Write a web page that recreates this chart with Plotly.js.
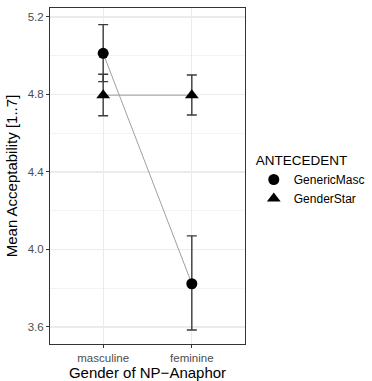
<!DOCTYPE html>
<html>
<head>
<meta charset="utf-8">
<script src="https://cdn.plot.ly/plotly-3.0.1.min.js"></script>
<style>html,body{margin:0;padding:0;background:#fff;}#chart{width:372px;height:381px;}</style>
</head>
<body>
<div id="chart"></div>
<script>
const categories = ["masculine", "feminine"];
const seriesNames = ["GenericMasc", "GenderStar"];
const genericMascMean = [5.012, 3.823];
const genericMascLow = [4.866, 3.584];
const genericMascHigh = [5.160, 4.070];
const genderStarMean = [4.796, 4.796];
const genderStarLow = [4.690, 4.694];
const genderStarHigh = [4.904, 4.900];
const yTicks = [3.6, 4.0, 4.4, 4.8, 5.2];
const yTickLabels = ["3.6", "4.0", "4.4", "4.8", "5.2"];

function lineTrace(mean) {
  return {x: categories, y: mean, type: 'scatter', mode: 'lines',
    line: {color: '#a0a0a0', width: 1}, showlegend: false, hoverinfo: 'skip'};
}
function pointTrace(name, mean, low, high, symbol, size) {
  return {x: categories, y: mean, name: name, type: 'scatter', mode: 'markers',
    marker: {symbol: symbol, size: size, color: '#000'},
    error_y: {type: 'data', symmetric: false,
      array: high.map((h, i) => h - mean[i]),
      arrayminus: mean.map((m, i) => m - low[i]),
      color: '#3a3a3a', thickness: 1.4, width: 5}};
}
const data = [
  lineTrace(genericMascMean),
  lineTrace(genderStarMean),
  pointTrace(seriesNames[0], genericMascMean, genericMascLow, genericMascHigh, 'circle', 11),
  pointTrace(seriesNames[1], genderStarMean, genderStarLow, genderStarHigh, 'triangle-up', 12)
];
const layout = {
  width: 372, height: 381,
  margin: {l: 50, r: 127, t: 8, b: 37, autoexpand: false},
  paper_bgcolor: '#fff', plot_bgcolor: '#fff',
  font: {family: 'Liberation Sans, Arial, sans-serif', color: '#000'},
  xaxis: {type: 'category', range: [-0.6, 1.6],
    showgrid: true, gridcolor: '#ebebeb', gridwidth: 1.2,
    showline: true, mirror: true, linecolor: '#333', linewidth: 1,
    ticks: 'outside', ticklen: 3, tickcolor: '#333',
    tickfont: {size: 11.5, color: '#4d4d4d'}, zeroline: false,
    title: {text: 'Gender of NP\u2212Anaphor', font: {size: 15, color: '#000'}, standoff: 5}},
  yaxis: {range: [3.512, 5.246], tickvals: yTicks, ticktext: yTickLabels,
    showgrid: true, gridcolor: '#ebebeb', gridwidth: 1.2,
    minor: {dtick: 0.2, tick0: 3.6, showgrid: true, gridcolor: '#f3f3f3', gridwidth: 1, ticks: ''},
    showline: true, mirror: true, linecolor: '#333', linewidth: 1,
    ticks: 'outside', ticklen: 3, tickcolor: '#333',
    tickfont: {size: 11.5, color: '#4d4d4d'}, zeroline: false,
    title: {text: 'Mean Acceptability [1..7]', font: {size: 15, color: '#000'}, standoff: 6}},
  showlegend: true,
  legend: {x: 1.045, xanchor: 'left', y: 0.585, yanchor: 'top',
    title: {text: 'ANTECEDENT', font: {size: 13.5, color: '#000'}},
    font: {size: 12, color: '#000'}, bgcolor: 'rgba(0,0,0,0)', tracegroupgap: 0}
};
Plotly.newPlot('chart', data, layout, {displayModeBar: false, staticPlot: true});
</script>
</body>
</html>
